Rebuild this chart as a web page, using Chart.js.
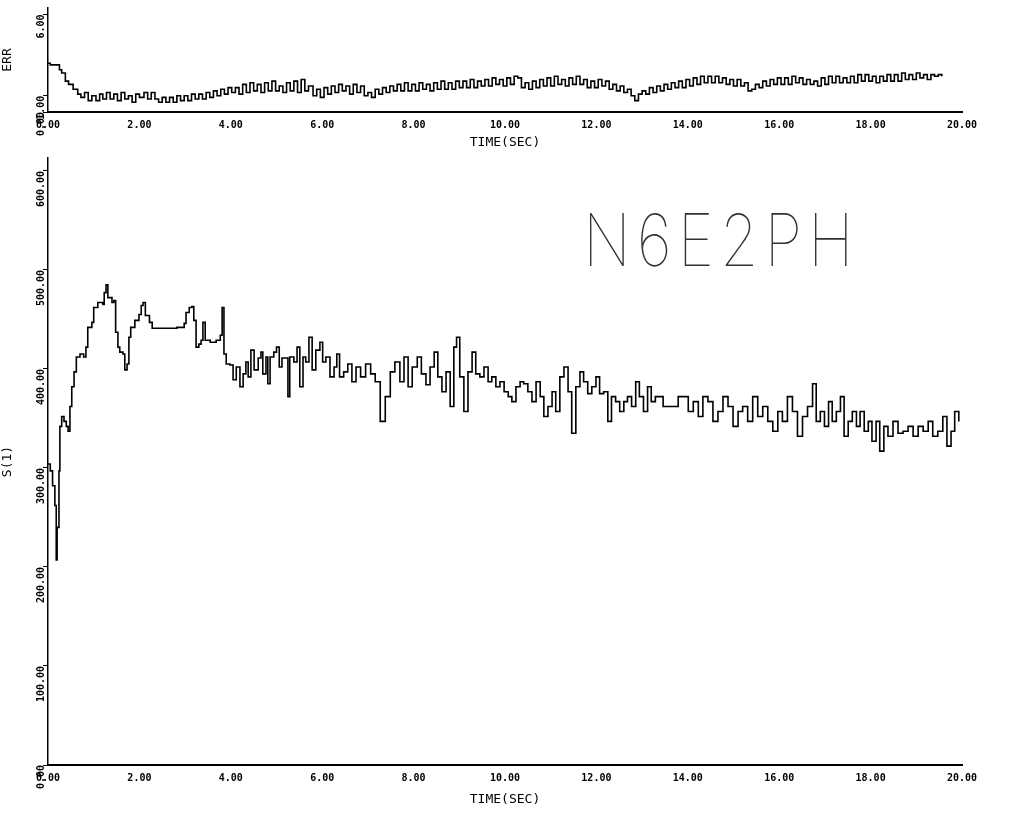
<!DOCTYPE html>
<html>
<head>
<meta charset="utf-8">
<script src="https://cdn.jsdelivr.net/npm/chart.js@4/dist/chart.umd.min.js"></script>
<style>
  body { margin: 0; background: #fff; width: 1009px; height: 815px; overflow: hidden; position: relative; }
  #topBox { position: absolute; left: 0; top: 0; width: 1009px; height: 150px; }
  #mainBox { position: absolute; left: 0; top: 150px; width: 1009px; height: 665px; }
  #tag { position: absolute; left: 583px; top: 196px; font-family: "Inter", "DejaVu Sans"; font-weight: 100;
         font-size: 72px; letter-spacing: 7px; color: #333; transform: scaleX(0.86); transform-origin: left top; }
</style>
</head>
<body>
<div id="topBox"><canvas id="topChart"></canvas></div>
<div id="mainBox"><canvas id="mainChart"></canvas></div>
<div id="tag">N6E2PH</div>
<script>
// upper strip: ERR vs time
let topTimes = [0.00, 0.05, 0.10, 0.20, 0.25, 0.30, 0.38, 0.45, 0.55, 0.65, 0.72, 0.80, 0.88, 0.96, 1.05, 1.13, 1.20, 1.28, 1.36, 1.44,
  1.52, 1.60, 1.68, 1.76, 1.84, 1.92, 2.00, 2.10, 2.18, 2.26, 2.34, 2.42, 2.50, 2.58, 2.66, 2.74, 2.82, 2.90, 2.98, 3.06,
  3.14, 3.22, 3.30, 3.38, 3.46, 3.54, 3.62, 3.70, 3.78, 3.86, 3.94, 4.02, 4.10, 4.18, 4.26, 4.34, 4.42, 4.50, 4.58, 4.66,
  4.74, 4.82, 4.90, 4.98, 5.06, 5.14, 5.22, 5.30, 5.38, 5.46, 5.54, 5.62, 5.70, 5.80, 5.88, 5.96, 6.04, 6.12, 6.20, 6.28,
  6.36, 6.44, 6.52, 6.60, 6.68, 6.76, 6.84, 6.92, 7.00, 7.08, 7.16, 7.24, 7.32, 7.40, 7.48, 7.56, 7.64, 7.72, 7.80, 7.88,
  7.96, 8.04, 8.12, 8.20, 8.28, 8.36, 8.44, 8.52, 8.60, 8.68, 8.76, 8.84, 8.92, 9.00, 9.08, 9.16, 9.24, 9.32, 9.40, 9.48,
  9.56, 9.64, 9.72, 9.80, 9.88, 9.96, 10.04, 10.12, 10.20, 10.28, 10.36, 10.44, 10.52, 10.60, 10.68, 10.76, 10.84, 10.92, 11.00, 11.08,
  11.16, 11.24, 11.32, 11.40, 11.48, 11.56, 11.64, 11.72, 11.80, 11.88, 11.96, 12.04, 12.12, 12.20, 12.28, 12.36, 12.44, 12.52, 12.60, 12.68,
  12.76, 12.84, 12.92, 13.00, 13.08, 13.16, 13.24, 13.32, 13.40, 13.48, 13.56, 13.64, 13.72, 13.80, 13.88, 13.96, 14.04, 14.12, 14.20, 14.28,
  14.36, 14.44, 14.52, 14.60, 14.68, 14.76, 14.84, 14.92, 15.00, 15.08, 15.16, 15.24, 15.32, 15.40, 15.48, 15.56, 15.64, 15.72, 15.80, 15.88,
  15.96, 16.04, 16.12, 16.20, 16.28, 16.36, 16.44, 16.52, 16.60, 16.68, 16.76, 16.84, 16.92, 17.00, 17.08, 17.16, 17.24, 17.32, 17.40, 17.48,
  17.56, 17.64, 17.72, 17.80, 17.88, 17.96, 18.04, 18.12, 18.20, 18.28, 18.36, 18.44, 18.52, 18.60, 18.68, 18.76, 18.84, 18.92, 19.00, 19.08,
  19.16, 19.24, 19.32, 19.40, 19.48, 19.56];
let topErr = [3.0, 2.9, 2.9, 2.9, 2.6, 2.4, 1.9, 1.7, 1.4, 1.1, 0.9, 1.2, 0.7, 1.0, 0.7, 1.1, 0.8, 1.2, 0.8, 1.1,
  0.7, 1.2, 0.8, 1.0, 0.6, 1.1, 0.9, 1.2, 0.8, 1.2, 0.8, 0.6, 0.9, 0.6, 0.9, 0.6, 1.0, 0.7, 1.0, 0.7,
  1.1, 0.8, 1.1, 0.8, 1.2, 0.9, 1.3, 1.0, 1.4, 1.1, 1.5, 1.2, 1.5, 1.1, 1.7, 1.2, 1.8, 1.3, 1.7, 1.2,
  1.8, 1.3, 1.9, 1.3, 1.6, 1.2, 1.8, 1.3, 1.9, 1.2, 2.0, 1.3, 1.6, 1.0, 1.4, 0.9, 1.5, 1.1, 1.6, 1.2,
  1.7, 1.3, 1.6, 1.1, 1.7, 1.2, 1.6, 1.0, 1.2, 0.9, 1.4, 1.1, 1.5, 1.2, 1.6, 1.3, 1.7, 1.3, 1.8, 1.3,
  1.7, 1.3, 1.8, 1.4, 1.7, 1.3, 1.8, 1.4, 1.9, 1.4, 1.8, 1.4, 1.9, 1.5, 1.9, 1.5, 2.0, 1.5, 1.9, 1.6,
  2.0, 1.6, 2.1, 1.7, 2.0, 1.6, 2.1, 1.7, 2.2, 2.1, 1.5, 1.8, 1.4, 1.9, 1.5, 2.0, 1.6, 2.1, 1.6, 2.2,
  1.7, 2.0, 1.6, 2.1, 1.7, 2.2, 1.7, 2.0, 1.5, 1.9, 1.5, 2.0, 1.6, 1.9, 1.4, 1.7, 1.3, 1.6, 1.2, 1.4,
  1.0, 0.7, 1.1, 1.3, 1.1, 1.5, 1.2, 1.6, 1.3, 1.7, 1.4, 1.8, 1.5, 1.9, 1.5, 2.0, 1.6, 2.1, 1.7, 2.2,
  1.8, 2.2, 1.8, 2.2, 1.8, 2.1, 1.7, 2.0, 1.6, 2.0, 1.6, 1.8, 1.3, 1.4, 1.7, 1.5, 1.9, 1.6, 2.0, 1.7,
  2.1, 1.7, 2.1, 1.7, 2.2, 1.8, 2.1, 1.7, 2.0, 1.7, 1.9, 1.6, 2.1, 1.7, 2.2, 1.8, 2.2, 1.8, 2.1, 1.8,
  2.2, 1.8, 2.3, 1.9, 2.3, 1.9, 2.2, 1.8, 2.2, 1.9, 2.3, 1.9, 2.3, 1.9, 2.4, 2.0, 2.3, 2.0, 2.4, 2.1,
  2.3, 2.0, 2.3, 2.2, 2.3, 2.2];
let topYTicks = [0, 1, 6];

// main panel
let mainTimes = [0.00, 0.05, 0.10, 0.15, 0.18, 0.20, 0.24, 0.26, 0.30, 0.35, 0.40, 0.44, 0.48, 0.52, 0.57, 0.62, 0.70, 0.78, 0.83, 0.87,
  0.96, 1.00, 1.09, 1.20, 1.23, 1.27, 1.31, 1.40, 1.44, 1.48, 1.53, 1.57, 1.64, 1.68, 1.73, 1.77, 1.81, 1.90, 1.99, 2.04,
  2.08, 2.13, 2.22, 2.28, 2.60, 2.82, 2.98, 3.02, 3.09, 3.15, 3.19, 3.24, 3.30, 3.35, 3.39, 3.44, 3.55, 3.68, 3.77, 3.81,
  3.85, 3.90, 3.98, 4.05, 4.12, 4.20, 4.27, 4.33, 4.38, 4.44, 4.51, 4.60, 4.66, 4.70, 4.77, 4.81, 4.86, 4.94, 5.00, 5.06,
  5.12, 5.18, 5.25, 5.29, 5.38, 5.45, 5.51, 5.58, 5.64, 5.71, 5.78, 5.86, 5.95, 6.01, 6.08, 6.17, 6.26, 6.32, 6.38, 6.47,
  6.56, 6.65, 6.74, 6.84, 6.95, 7.06, 7.16, 7.27, 7.38, 7.49, 7.59, 7.70, 7.79, 7.88, 7.97, 8.08, 8.17, 8.27, 8.36, 8.45,
  8.53, 8.62, 8.71, 8.80, 8.88, 8.94, 9.01, 9.10, 9.19, 9.28, 9.36, 9.45, 9.54, 9.63, 9.71, 9.80, 9.89, 9.98, 10.07, 10.15,
  10.24, 10.33, 10.41, 10.50, 10.59, 10.68, 10.77, 10.85, 10.94, 11.03, 11.11, 11.20, 11.29, 11.38, 11.46, 11.55, 11.64, 11.72, 11.81, 11.90,
  11.99, 12.07, 12.16, 12.25, 12.33, 12.42, 12.51, 12.60, 12.68, 12.77, 12.86, 12.94, 13.03, 13.12, 13.20, 13.29, 13.46, 13.68, 13.79, 13.90,
  14.01, 14.12, 14.23, 14.33, 14.44, 14.55, 14.66, 14.77, 14.88, 14.99, 15.10, 15.20, 15.31, 15.42, 15.53, 15.64, 15.75, 15.86, 15.97, 16.07,
  16.18, 16.29, 16.40, 16.51, 16.62, 16.73, 16.81, 16.90, 16.99, 17.08, 17.16, 17.25, 17.34, 17.42, 17.51, 17.60, 17.69, 17.77, 17.86, 17.95,
  18.03, 18.12, 18.20, 18.29, 18.38, 18.49, 18.60, 18.71, 18.82, 18.93, 19.04, 19.15, 19.26, 19.36, 19.47, 19.58, 19.67, 19.76, 19.84, 19.93];
let mainValues = [304, 297, 282, 262, 207, 240, 297, 342, 352, 347, 342, 337, 362, 382, 397, 412, 415, 412, 422, 442,
  447, 462, 467, 465, 477, 485, 472, 467, 469, 437, 422, 417, 415, 399, 405, 432, 442, 449, 455, 464,
  467, 454, 447, 441, 441, 442, 446, 457, 462, 463, 449, 422, 425, 429, 447, 429, 427, 429, 434, 462,
  415, 405, 404, 389, 402, 382, 395, 407, 392, 419, 399, 411, 417, 395, 412, 385, 412, 417, 422, 402,
  411, 411, 372, 412, 407, 422, 382, 412, 407, 432, 399, 419, 427, 407, 412, 392, 402, 415, 392, 397,
  405, 387, 402, 392, 405, 395, 387, 347, 372, 397, 407, 387, 412, 382, 402, 412, 395, 384, 402, 417,
  392, 377, 397, 362, 422, 432, 392, 357, 397, 417, 395, 392, 402, 387, 392, 382, 387, 377, 372, 367,
  382, 387, 385, 377, 367, 387, 372, 352, 362, 377, 357, 392, 402, 377, 335, 382, 397, 387, 375, 382,
  392, 375, 377, 347, 372, 367, 357, 367, 372, 362, 387, 372, 357, 382, 367, 372, 362, 362, 372, 372,
  357, 367, 352, 372, 367, 347, 357, 372, 362, 342, 357, 362, 347, 372, 352, 362, 347, 337, 357, 347,
  372, 357, 332, 352, 362, 385, 347, 357, 342, 367, 347, 357, 372, 332, 347, 357, 342, 357, 337, 347,
  327, 347, 317, 342, 332, 347, 335, 337, 342, 332, 342, 337, 347, 332, 337, 352, 322, 337, 357, 347];
let mainYTicks = [0, 100, 200, 300, 400, 500, 600];

let xTickStep = 2;
let tickFont = { family: "DejaVu Sans Mono", size: 10, weight: "bold" };
let titleFont = { family: "DejaVu Sans Mono", size: 13 };

function toPoints(xs, ys) {
    let pts = [];
    for (let i = 0; i < xs.length; i++) {
        pts.push({ x: xs[i], y: ys[i] });
    }
    return pts;
}

function xAxis(height, titleGap) {
    return {
        type: 'linear', min: 0, max: 20,
        grid: { display: false, drawOnChartArea: false, drawTicks: true, tickLength: 5, color: '#000' },
        border: { color: '#000', width: 2 },
        ticks: { stepSize: xTickStep, font: tickFont, color: '#000', padding: 2, maxRotation: 0,
                 callback: v => v.toFixed(2) },
        title: { display: true, text: 'TIME(SEC)', font: titleFont, color: '#000', padding: { top: 0, bottom: titleGap } },
        afterFit: s => { s.height = height; }
    };
}

function yAxis(title, tickList) {
    return {
        grid: { display: true, drawOnChartArea: false, tickLength: 5, color: '#000' },
        border: { color: '#000', width: 1.5, dash: [1, 1.5] },
        ticks: { font: tickFont, color: '#000', padding: 2, minRotation: 90, maxRotation: 90,
                 callback: v => v.toFixed(2) },
        title: { display: true, text: title, font: titleFont, color: '#000', padding: 0 },
        afterBuildTicks: s => { s.ticks = tickList.map(v => ({ value: v })); },
        afterFit: s => { s.width = 48; }
    };
}

let lineStyle = { borderColor: '#000', borderWidth: 1.6, pointRadius: 0, stepped: true, fill: false };

let topY = yAxis('ERR', topYTicks);
topY.min = 0; topY.max = 6.4;

new Chart(document.getElementById('topChart'), {
    type: 'line',
    data: { datasets: [Object.assign({ data: toPoints(topTimes, topErr) }, lineStyle)] },
    options: {
        responsive: true, maintainAspectRatio: false, animation: false,
        layout: { padding: { top: 5, right: 47, left: 0, bottom: 0 } },
        plugins: { legend: { display: false }, tooltip: { enabled: false } },
        scales: { x: xAxis(38, 0), y: topY }
    }
});

let mainY = yAxis('S(1)', mainYTicks);
mainY.min = 0; mainY.max = 613;

new Chart(document.getElementById('mainChart'), {
    type: 'line',
    data: { datasets: [Object.assign({ data: toPoints(mainTimes, mainValues) }, lineStyle)] },
    options: {
        responsive: true, maintainAspectRatio: false, animation: false,
        layout: { padding: { top: 0, right: 47, left: 0, bottom: 0 } },
        plugins: { legend: { display: false }, tooltip: { enabled: false } },
        scales: { x: xAxis(50, 8), y: mainY }
    }
});
</script>
</body>
</html>
